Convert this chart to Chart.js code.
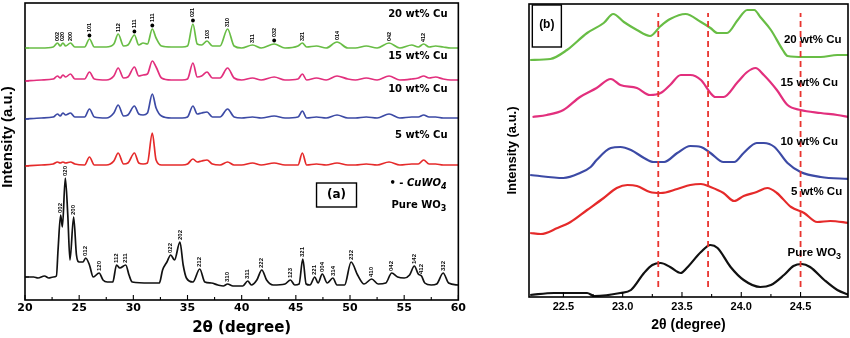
<!DOCTYPE html>
<html>
<head>
<meta charset="utf-8">
<title>XRD patterns of Cu-loaded WO3</title>
<script src="https://cdn.jsdelivr.net/npm/chart.js@4.4.1/dist/chart.umd.min.js"></script>
<style>
  html, body { margin: 0; padding: 0; background: #fff; }
  #wrap { position: relative; width: 850px; height: 338px; }
  canvas { position: absolute; top: 0; }
  #xrdFull { left: 0; }
  #xrdZoom { left: 470px; }
</style>
</head>
<body>
<div id="wrap">
  <canvas id="xrdFull" width="468" height="338"></canvas>
  <canvas id="xrdZoom" width="380" height="338"></canvas>
</div>
<script>
// ---------- (a) full scans, 20-60 deg, curves stacked by sample ----------
const fullTicks = [20, 25, 30, 35, 40, 45, 50, 55, 60];

const pureTheta = [20.0, 20.8, 21.2, 21.8, 22.2, 22.6, 22.9, 23.05, 23.29, 23.45, 23.72, 23.95, 24.15, 24.49,
  24.75, 25.0, 25.35, 25.6, 25.95, 26.3, 26.84, 27.2, 27.6, 28.1, 28.45, 28.75, 29.3, 29.6, 29.9, 31.5, 32.4,
  32.7, 33.1, 33.45, 33.8, 34.3, 34.6, 34.9, 35.5, 36.13, 36.6, 37.2, 37.8, 38.3, 38.7, 39.2, 40.1, 40.56,
  40.9, 41.4, 41.86, 42.3, 42.9, 44.0, 44.5, 44.9, 45.3, 45.64, 45.95, 46.3, 46.75, 47.05, 47.44, 47.9, 48.42,
  48.8, 49.5, 50.1, 50.7, 51.3, 52.0, 52.6, 53.3, 53.85, 54.4, 55.0, 55.5, 55.94, 56.3, 56.6, 56.9, 57.5,
  58.0, 58.6, 59.1, 60.0];
const pureWO3 = [23, 23, 22, 24, 22, 23, 24, 50, 85, 73, 122, 85, 40, 83,
  45, 38, 38, 42, 35, 23, 27, 20, 18, 18, 35, 32, 35, 25, 18, 17, 17,
  30, 38, 45, 40, 58, 35, 22, 18, 31, 18, 17, 15, 14, 16, 14, 14, 19,
  15, 20, 30, 20, 15, 16, 20, 15, 16, 41, 16, 15, 23, 17, 26, 17, 22,
  15, 15, 38, 25, 16, 21, 16, 17, 27, 23, 22, 25, 34, 26, 24, 17, 15,
  16, 27, 17, 15];

const cuTheta = [20.0, 21.5, 22.6, 23.0, 23.25, 23.5, 23.75, 24.2, 24.6, 25.5, 25.95, 26.4, 27.5, 28.2, 28.6,
  29.1, 29.5, 30.1, 30.5, 30.9, 31.3, 31.75, 32.1, 32.6, 33.5, 34.5, 35.0, 35.5, 35.9, 36.3, 36.8, 37.3,
  38.0, 38.7, 39.3, 40.0, 41.0, 41.8, 43.0, 44.0, 45.2, 45.6, 46.0, 46.9, 47.8, 48.8, 49.8, 50.5, 51.5,
  52.5, 53.6, 54.6, 55.7, 56.3, 56.8, 57.3, 57.9, 58.6, 59.3, 60.0];
const cu20 = [252, 252, 253, 257, 254, 257, 254, 257, 253, 253, 261, 253, 253, 256, 266,
  254, 255, 265, 255, 257, 256, 271, 262, 254, 253, 253, 254, 276, 256, 255, 259, 254,
  254, 271, 254, 252, 255, 252, 256, 252, 254, 257, 253, 254, 252, 258, 252, 252, 254,
  252, 257, 252, 255, 253, 256, 253, 254, 253, 252, 252];
const cu15 = [219, 220, 221, 224, 222, 225, 223, 226, 221, 221, 228, 221, 220, 224, 232,
  222, 223, 233, 224, 225, 226, 239, 233, 222, 220, 220, 221, 237, 223, 224, 228, 222,
  222, 232, 222, 220, 222, 220, 223, 220, 221, 226, 220, 222, 220, 224, 221, 220, 222,
  220, 224, 220, 221, 222, 224, 222, 223, 221, 220, 220];
const cu10 = [181, 182, 183, 186, 184, 187, 185, 187, 183, 183, 191, 183, 182, 187, 195,
  184, 185, 194, 186, 185, 187, 206, 192, 184, 182, 182, 183, 194, 186, 187, 188, 183,
  183, 191, 183, 182, 183, 182, 184, 182, 183, 189, 182, 183, 182, 185, 182, 182, 183,
  182, 186, 182, 183, 183, 185, 183, 183, 182, 182, 182];
const cu5 = [134, 135, 136, 138, 137, 138, 137, 138, 136, 135, 143, 135, 135, 139, 147,
  136, 137, 147, 137, 136, 137, 167, 140, 135, 135, 135, 136, 141, 138, 139, 140, 136,
  135, 138, 135, 135, 137, 135, 137, 135, 135, 147, 135, 136, 135, 137, 135, 135, 136,
  135, 138, 135, 136, 136, 140, 136, 136, 135, 135, 135];

// Miller indices written over the peaks
const pureIndices = ['002', '020', '200', '012', '120', '112', '211', '022', '202', '212', '310', '311',
  '222', '123', '321', '221', '004', '314', '232', '410', '042', '142', '412', '332'];
const pureIndexAt = [23.29, 23.72, 24.49, 25.6, 26.84, 28.45, 29.3, 33.45, 34.3, 36.13, 38.7, 40.56,
  41.86, 44.5, 45.64, 46.75, 47.44, 48.42, 50.1, 52.0, 53.85, 55.94, 56.6, 58.6];
const cuIndices = ['002', '020', '200', '101', '112', '111', '111', '021', '103', '310', '311', '032',
  '321', '014', '042', '412'];
const cuIndexAt = [23.0, 23.5, 24.2, 25.95, 28.6, 30.1, 31.75, 35.5, 36.8, 38.7, 41.0, 43.0,
  45.6, 48.8, 53.6, 56.8];
const cuwo4Peaks = [25.95, 30.1, 31.75, 35.5, 43.0];

// ---------- (b) close-up of the 22.2-24.9 deg triplet ----------
const zoomTicks = [22.5, 23.0, 23.5, 24.0, 24.5];
const refPeaks = [23.3, 23.72, 24.5];

const zPureTheta = [22.22, 22.42, 22.70, 22.76, 22.98, 23.07, 23.18, 23.25, 23.32, 23.40, 23.49, 23.54, 23.66,
  23.74, 23.80, 23.91, 24.02, 24.16, 24.25, 24.36, 24.44, 24.51, 24.58, 24.70, 24.81, 24.91];
const zPure = [2, 4, 4, 1, 4, 7, 24, 32, 34, 30, 24, 29, 45, 52, 49, 30, 17, 10, 12, 22, 31, 33, 30, 17, 7, 2];

const z5Theta = [22.22, 22.31, 22.45, 22.56, 22.70, 22.84, 22.95, 23.04, 23.12, 23.23, 23.32, 23.46, 23.57,
  23.66, 23.74, 23.85, 23.94, 24.02, 24.13, 24.22, 24.30, 24.42, 24.53, 24.64, 24.75, 24.91];
const z5 = [64, 63, 69, 75, 87, 99, 109, 112, 111, 105, 104, 108, 112, 113, 110, 104, 96, 101, 105, 109, 104,
  90, 84, 75, 76, 74];

const z10Theta = [22.22, 22.50, 22.64, 22.73, 22.78, 22.90, 22.98, 23.07, 23.18, 23.26, 23.35, 23.46, 23.57,
  23.66, 23.74, 23.85, 23.94, 24.02, 24.13, 24.19, 24.28, 24.39, 24.50, 24.67, 24.91];
const z10 = [122, 119, 124, 130, 137, 149, 150, 147, 139, 135, 135, 144, 151, 150, 144, 135, 135, 144, 154,
  154, 150, 134, 125, 120, 118];

const z15Theta = [22.24, 22.36, 22.50, 22.64, 22.78, 22.90, 22.98, 23.12, 23.23, 23.32, 23.40, 23.49, 23.57,
  23.66, 23.74, 23.78, 23.85, 23.97, 24.05, 24.12, 24.19, 24.30, 24.39, 24.50, 24.67, 24.81, 24.91];
const z15 = [180, 182, 187, 200, 209, 218, 212, 209, 202, 204, 212, 222, 222, 217, 204, 200, 200, 215, 225,
  229, 222, 207, 192, 187, 184, 182, 180];

const z20Theta = [22.22, 22.39, 22.53, 22.70, 22.84, 22.92, 23.01, 23.12, 23.23, 23.32, 23.40, 23.53, 23.66,
  23.74, 23.80, 23.88, 23.97, 24.05, 24.11, 24.16, 24.25, 24.35, 24.39, 24.53, 24.67, 24.81, 24.91];
const z20 = [237, 238, 247, 264, 274, 283, 275, 267, 261, 271, 278, 283, 275, 269, 264, 264, 277, 287, 287,
  280, 267, 247, 241, 240, 240, 242, 242];

// ---------- styling ----------
const GREEN = '#68bd45', PINK = '#e22f7d', BLUE = '#3c4aa5', RED = '#e52a2a', BLACK = '#111';
const WIDE = 'DejaVu Sans', NARROW = 'Liberation Sans';
Chart.defaults.color = '#000';

const pts = (xs, ys) => xs.map((x, i) => ({ x, y: ys[i] }));

// frame, inward ticks, peak indices, captions
const decor = {
  id: 'decor',
  afterDatasetsDraw(chart, args, o) {
    const { ctx, chartArea: a, scales: { x, y } } = chart;
    ctx.save();
    ctx.strokeStyle = '#000';
    ctx.lineWidth = 1.6;
    ctx.strokeRect(a.left, a.top, a.right - a.left, a.bottom - a.top);

    const majors = x.ticks.map(t => t.value);
    ctx.lineWidth = 1.1;
    ctx.beginPath();
    majors.forEach((v, i) => {
      const px = x.getPixelForValue(v);
      ctx.moveTo(px, a.bottom);
      ctx.lineTo(px, a.bottom - o.tick);
      if (i < majors.length - 1) {
        const mx = x.getPixelForValue((v + majors[i + 1]) / 2);
        ctx.moveTo(mx, a.bottom);
        ctx.lineTo(mx, a.bottom - o.tick * 0.6);
      }
    });
    ctx.stroke();

    // short coloured marks on the left axis where each curve starts
    if (o.edgeMarks) {
      chart.data.datasets.forEach(ds => {
        const py = y.getPixelForValue(ds.data[0].y);
        ctx.strokeStyle = ds.borderColor;
        ctx.beginPath();
        ctx.moveTo(a.left, py);
        ctx.lineTo(a.left + 4, py);
        ctx.stroke();
      });
    }

    ctx.fillStyle = '#000';
    if (o.yTitle) {
      ctx.save();
      ctx.font = o.yTitle.font;
      ctx.textAlign = 'center';
      ctx.textBaseline = 'middle';
      ctx.translate(o.yTitle.x, o.yTitle.y);
      ctx.rotate(-Math.PI / 2);
      ctx.fillText(o.yTitle.s, 0, 0);
      ctx.restore();
    }

    (o.indexSets || []).forEach(s => {
      ctx.font = s.font;
      ctx.textAlign = 'left';
      ctx.textBaseline = 'middle';
      s.names.forEach((name, i) => {
        const t = s.at[i];
        const px = x.getPixelForValue(t);
        let py = y.getPixelForValue(s.values[s.theta.indexOf(t)]) - 2;
        if (s.dots && s.dots.includes(t)) {
          ctx.beginPath();
          ctx.arc(px, py - 1.5, 1.9, 0, Math.PI * 2);
          ctx.fill();
          py -= 5;
        }
        ctx.save();
        ctx.translate(px, py);
        ctx.rotate(-Math.PI / 2);
        ctx.fillText(name, 0, 0);
        ctx.restore();
      });
    });

    ctx.strokeStyle = '#000';
    ctx.lineWidth = 1.4;
    (o.boxes || []).forEach(b => {
      const x0 = x.getPixelForValue(b[0]), x1 = x.getPixelForValue(b[1]);
      const y0 = y.getPixelForValue(b[2]), y1 = y.getPixelForValue(b[3]);
      ctx.strokeRect(x0, y0, x1 - x0, y1 - y0);
    });

    (o.texts || []).forEach(t => {
      ctx.textBaseline = 'middle';
      ctx.textAlign = 'left';
      const widths = t.parts.map(p => { ctx.font = p.font; return ctx.measureText(p.s).width; });
      const total = widths.reduce((s, w) => s + w, 0);
      let px = x.getPixelForValue(t.x);
      if (t.align === 'right') px -= total;
      if (t.align === 'center') px -= total / 2;
      const py = y.getPixelForValue(t.y);
      t.parts.forEach((p, i) => {
        ctx.font = p.font;
        ctx.fillText(p.s, px, py + (p.sub ? 4 : 0));
        px += widths[i];
      });
    });
    ctx.restore();
  }
};

function lineSet(data, color, width) {
  return { data, borderColor: color, borderWidth: width, pointRadius: 0, fill: false,
    cubicInterpolationMode: 'monotone', order: 1 };
}

function baseOptions(o) {
  return {
    responsive: false,
    animation: false,
    layout: { padding: o.padding },
    plugins: { legend: { display: false }, tooltip: { enabled: false }, decor: o.decor },
    scales: {
      x: {
        type: 'linear', min: o.xMin, max: o.xMax,
        afterFit: s => { s.height = o.xHeight; },
        afterBuildTicks: s => { s.ticks = o.ticks.map(v => ({ value: v })); },
        ticks: { font: o.tickFont, padding: o.tickPad, maxRotation: 0, callback: o.fmt },
        grid: { display: false, drawTicks: false },
        border: { display: false },
        title: { display: true, text: '2θ (degree)', font: o.titleFont, padding: { top: 0, bottom: o.titlePad } }
      },
      y: {
        min: 0, max: o.yMax,
        afterFit: s => { s.width = o.yWidth; },
        ticks: { display: false },
        grid: { display: false, drawTicks: false },
        border: { display: false },
        title: { display: !!o.yTitleFont, text: 'Intensity (a.u.)', font: o.yTitleFont,
          padding: { top: o.yTitlePad || 0, bottom: 0 } }
      }
    }
  };
}

const boldW = s => `bold ${s}px "${WIDE}"`;
const boldN = s => `bold ${s}px "${NARROW}"`;

new Chart(document.getElementById('xrdFull'), {
  type: 'line',
  data: {
    datasets: [
      lineSet(pts(cuTheta, cu20), GREEN, 1.7),
      lineSet(pts(cuTheta, cu15), PINK, 1.7),
      lineSet(pts(cuTheta, cu10), BLUE, 1.7),
      lineSet(pts(cuTheta, cu5), RED, 1.7),
      lineSet(pts(pureTheta, pureWO3), BLACK, 1.7)
    ]
  },
  options: baseOptions({
    padding: { top: 3, right: 9, left: 0, bottom: 0 },
    xMin: 20, xMax: 60, yMax: 297, xHeight: 38, yWidth: 25,
    ticks: fullTicks, fmt: v => String(v), tickFont: { family: WIDE, size: 11, weight: 'bold' }, tickPad: 2,
    titleFont: { family: WIDE, size: 15, weight: 'bold' }, titlePad: 1,
    decor: {
      tick: 5,
      edgeMarks: true,
      // the y title sits a little above the middle of this panel
      yTitle: { s: 'Intensity (a.u.)', x: 8, y: 137, font: boldN(15) },
      indexSets: [
        { theta: pureTheta, values: pureWO3, names: pureIndices, at: pureIndexAt, font: boldN(6) },
        { theta: cuTheta, values: cu20, names: cuIndices, at: cuIndexAt, dots: cuwo4Peaks, font: boldN(5.5) }
      ],
      boxes: [[46.91, 50.6, 117, 93]],
      texts: [
        { x: 59.0, y: 286, align: 'right', parts: [{ s: '20 wt% Cu', font: boldW(10) }] },
        { x: 59.0, y: 244, align: 'right', parts: [{ s: '15 wt% Cu', font: boldW(10) }] },
        { x: 59.0, y: 211, align: 'right', parts: [{ s: '10 wt% Cu', font: boldW(10) }] },
        { x: 59.0, y: 165, align: 'right', parts: [{ s: '5 wt% Cu', font: boldW(10) }] },
        { x: 48.76, y: 105, align: 'center', parts: [{ s: '(a)', font: boldW(12) }] },
        { x: 53.64, y: 117, parts: [{ s: '• - ', font: boldW(10) },
          { s: 'CuWO', font: `italic bold 10px "${WIDE}"` },
          { s: '4', font: `italic bold 8px "${WIDE}"`, sub: true }] },
        { x: 53.83, y: 95, parts: [{ s: 'Pure WO', font: boldW(10) }, { s: '3', font: boldW(8), sub: true }] }
      ]
    }
  }),
  plugins: [decor]
});

const guides = refPeaks.map(t => ({
  data: [{ x: t, y: 10 }, { x: t, y: 284 }], borderColor: '#e8342f', borderWidth: 1.8, borderDash: [6, 4],
  pointRadius: 0, tension: 0, order: 0
}));

new Chart(document.getElementById('xrdZoom'), {
  type: 'line',
  data: {
    datasets: [
      ...guides,
      lineSet(pts(z20Theta, z20), GREEN, 2.2),
      lineSet(pts(z15Theta, z15), PINK, 2.2),
      lineSet(pts(z10Theta, z10), BLUE, 2.2),
      lineSet(pts(z5Theta, z5), RED, 2.2),
      lineSet(pts(zPureTheta, zPure), BLACK, 2.2)
    ]
  },
  options: baseOptions({
    padding: { top: 4, right: 2, left: 0, bottom: 0 },
    xMin: 22.21, xMax: 24.9, yMax: 293, xHeight: 41, yWidth: 59,
    ticks: zoomTicks, fmt: v => v.toFixed(1), tickFont: { family: NARROW, size: 11, weight: 'bold' }, tickPad: 3,
    titleFont: { family: NARROW, size: 14, weight: 'bold' }, titlePad: 4,
    yTitleFont: { family: NARROW, size: 13, weight: 'bold' }, yTitlePad: 35,
    decor: {
      tick: 5,
      boxes: [[22.238, 22.483, 292, 250]],
      texts: [
        { x: 24.36, y: 257, parts: [{ s: '20 wt% Cu', font: boldN(11.5) }] },
        { x: 24.33, y: 214, parts: [{ s: '15 wt% Cu', font: boldN(11.5) }] },
        { x: 24.33, y: 155, parts: [{ s: '10 wt% Cu', font: boldN(11.5) }] },
        { x: 24.42, y: 105, parts: [{ s: '5 wt% Cu', font: boldN(11.5) }] },
        { x: 24.39, y: 44, parts: [{ s: 'Pure WO', font: boldN(11.5) }, { s: '3', font: boldN(9), sub: true }] },
        { x: 22.36, y: 272, align: 'center', parts: [{ s: '(b)', font: boldN(12) }] }
      ]
    }
  }),
  plugins: [decor]
});
</script>
</body>
</html>
